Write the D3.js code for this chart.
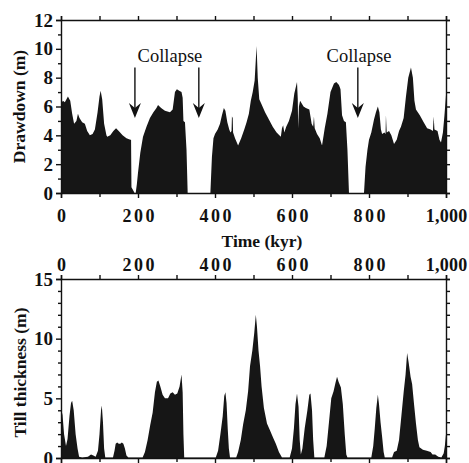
<!DOCTYPE html>
<html>
<head>
<meta charset="utf-8">
<script src="https://cdn.jsdelivr.net/npm/d3@7"></script>
<style>
  html, body { margin: 0; padding: 0; background: #fff; }
  svg { display: block; }
  .tick text { font-family: "Liberation Serif", "Times New Roman", serif; font-weight: bold; fill: #111; }
  .domain, .tick line { stroke: #111; stroke-width: 1.4; }
</style>
</head>
<body>
<svg id="chart" width="469" height="463"></svg>
<script>
// Simulated ice-stream record: basal drawdown and till thickness over 1 Myr
const drawdownTime = [0,5,10,18,24,29,34,40,44,48,55,62,68,75,82,88,95,100,103,107,112,118,120,128,136,143,150,160,170,180,182,183,187,191,194,197,200,206,213,222,231,240,248,252,260,270,283,290,296,301,307,313,316,318,322,326,329,388,392,396,400,407,413,418,423,427,432,437,440,443,444,446,447,452,460,468,476,482,488,493,498,503,508,511,515,520,530,540,550,560,571,574,577,580,585,592,600,606,613,615,616,618,621,630,636,645,648,651,655,657,659,665,672,678,685,692,700,709,715,722,726,730,735,740,744,748,787,791,796,800,806,813,818,823,827,831,834,840,843,844,846,852,858,865,872,878,883,890,896,902,909,914,918,922,932,942,951,960,966,968,970,978,983,987,992,996,1000];
const drawdownValue = [6.2,6.4,6.3,6.7,6.4,5.5,4.8,5.0,5.5,5.2,4.9,4.8,4.3,4.0,4.1,4.4,5.6,6.7,7.1,6.5,4.8,4.0,3.9,4.0,4.3,4.5,4.3,4.0,3.8,3.7,3.7,0.4,0.2,0,0,0.6,1.4,2.8,3.9,4.6,5.2,5.6,5.9,6.1,5.9,5.7,5.6,5.8,7.0,7.2,7.1,7.0,6.6,5.0,4.9,3.0,0,0,2.5,3.8,4.1,4.4,4.8,5.4,5.9,5.7,4.9,4.4,4.2,4.3,5.3,5.2,4.2,3.8,3.3,3.8,4.4,4.9,5.5,6.4,7.0,7.8,10.2,8.0,6.5,6.2,5.6,5.1,4.6,4.2,3.9,4.5,4.7,4.2,4.6,5.0,5.7,6.9,7.7,6.5,4.5,6.0,6.4,6.0,5.9,5.8,5.3,4.8,4.6,5.3,4.5,4.1,3.8,3.3,4.5,5.5,7.0,7.6,7.7,7.5,7.2,5.4,5.0,4.9,3.0,0,0,1.8,3.0,3.7,4.2,5.1,5.6,6.0,5.6,4.4,4.1,4.2,4.1,5.4,4.2,4.3,4.0,3.4,3.7,4.3,4.6,5.2,6.7,8.0,8.7,8.0,6.4,5.8,5.4,4.9,4.5,4.4,4.3,5.3,4.4,4.3,3.7,3.5,4.2,5.4,6.8];

const tillTime = [0,4,8,13,17,22,26,29,33,38,43,47,55,70,78,84,90,96,100,104,106,109,112,115,135,139,142,146,150,154,158,162,166,170,175,212,218,225,232,238,244,249,253,258,264,270,278,284,290,296,302,308,313,316,318,320,402,408,414,420,424,427,430,433,436,439,455,460,467,473,480,486,491,497,502,506,509,513,517,521,527,535,543,551,558,566,574,594,600,605,609,613,617,620,623,627,633,640,645,648,652,655,658,684,690,696,702,708,713,717,721,727,732,737,741,744,806,811,815,819,823,826,830,834,838,841,860,865,872,878,884,890,895,899,903,908,912,917,922,927,931,940,950,960,965,972,980,988,994,997,1000];
const tillValue = [4.2,3.6,2.0,1.0,1.6,3.5,4.6,4.8,4.0,2.0,0.8,0.1,0.05,0.1,0.3,0.2,0.1,0.6,2.0,4.0,4.4,3.0,0.8,0.05,0.05,0.6,1.2,1.3,1.2,1.2,1.3,1.2,0.8,0.2,0.05,0.05,0.5,1.5,2.8,3.8,5.5,6.4,6.5,6.0,5.3,5.0,5.0,5.4,5.5,5.3,5.4,6.0,7.0,5.5,2.0,0.05,0.05,0.6,2.0,3.5,5.2,5.5,4.6,2.5,0.8,0.05,0.05,0.5,1.5,2.8,4.0,5.6,7.7,9.0,10.5,12.0,11.0,9.0,7.7,6.0,4.2,2.9,2.3,1.7,1.2,0.5,0.05,0.05,0.8,2.5,4.5,5.4,4.3,1.5,0.3,0.8,2.5,4.0,5.3,5.4,4.0,1.5,0.05,0.05,1.0,3.0,5.0,5.6,6.3,6.8,6.4,5.9,4.5,2.0,0.3,0.05,0.05,1.0,2.5,4.2,5.3,4.5,3.0,1.8,0.5,0.05,0.05,0.5,0.6,1.5,3.5,5.5,7.0,8.8,8.0,6.8,6.2,4.5,2.9,1.5,0.9,0.7,0.6,0.5,0.3,0.3,0.1,0.05,0.4,1.0,2.0];

// Axis ticks and labels
const timeLabelTicks = [0, 200, 400, 600, 800, 1000];
const timeMinorTicks = [100, 300, 500, 700, 900];
const drawdownLabelTicks = [0, 2, 4, 6, 8, 10, 12];
const drawdownMinorTicks = [1, 3, 5, 7, 9, 11];
const drawdownRightTicks = d3.range(0, 13);
const tillLabelTicks = [0, 5, 10, 15];
const tillMinorTicks = d3.range(1, 15).filter(v => v % 5 !== 0);
const tillRightTicks = d3.range(0, 16);

// Collapse annotations (time in kyr, drawdown in m)
const collapseArrowTimes = [192, 358, 771];
const collapseLabelTimes = [283, 774];
const collapseLabelText = ["Collapse", "Collapse"];
const arrowTopValue = 8.7;
const arrowTipValue = 5.2;

const svg = d3.select("#chart");
const serif = '"Liberation Serif", "Times New Roman", serif';

const x = d3.scaleLinear().domain([0, 1000]).range([61, 446]);
const yTop = d3.scaleLinear().domain([0, 12]).range([193, 20]);
const yBot = d3.scaleLinear().domain([0, 15]).range([458, 279]);

const fmtTime = d3.format(",");

// Time labels: short numbers are spaced out, "1,000" is set tight
function styleTimeLabels(sel) {
  sel.selectAll("text")
    .style("font-size", "18px")
    .each(function (d) {
      const sp = d >= 1000 ? 0.3 : 2.5;
      d3.select(this).style("letter-spacing", sp + "px").attr("dx", (sp / 2) + "px");
    });
}

function frame(g, y, top, bottom, labelTicks, minorTicks, rightTicks, showBottomLabels) {
  // bottom edge
  const bAxis = g.append("g").attr("transform", `translate(0,${bottom})`)
    .call(d3.axisBottom(x).tickValues(timeLabelTicks).tickSize(5).tickPadding(11)
      .tickFormat(showBottomLabels ? fmtTime : ""));
  styleTimeLabels(bAxis);
  g.append("g").attr("transform", `translate(0,${bottom})`)
    .call(d3.axisBottom(x).tickValues(timeMinorTicks).tickSize(4).tickFormat(""))
    .select(".domain").remove();
  // top edge
  const tAxis = g.append("g").attr("transform", `translate(0,${top})`)
    .call(d3.axisTop(x).tickValues(timeLabelTicks).tickSize(4).tickPadding(4)
      .tickFormat(showBottomLabels ? "" : fmtTime));
  styleTimeLabels(tAxis);
  g.append("g").attr("transform", `translate(0,${top})`)
    .call(d3.axisTop(x).tickValues(timeMinorTicks).tickSize(4).tickFormat(""))
    .select(".domain").remove();
  // left edge
  const lAxis = g.append("g").attr("transform", `translate(${x(0)},0)`)
    .call(d3.axisLeft(y).tickValues(labelTicks).tickSize(5).tickPadding(3));
  lAxis.selectAll("text").style("font-size", "19px");
  g.append("g").attr("transform", `translate(${x(0)},0)`)
    .call(d3.axisLeft(y).tickValues(minorTicks).tickSize(3).tickFormat(""))
    .select(".domain").remove();
  // right edge
  g.append("g").attr("transform", `translate(${x(1000)},0)`)
    .call(d3.axisRight(y).tickValues(rightTicks).tickSize(4).tickFormat(""));
}

// ---- Drawdown panel ----
const gTop = svg.append("g");
const drawdown = drawdownTime.map((t, i) => ({ t, v: drawdownValue[i] }));
gTop.append("path")
  .datum(drawdown)
  .attr("fill", "#161616")
  .attr("d", d3.area().x(d => x(d.t)).y0(yTop(0)).y1(d => yTop(d.v)));
frame(gTop, yTop, 20, 193, drawdownLabelTicks, drawdownMinorTicks, drawdownRightTicks, true);

gTop.append("text")
  .attr("transform", `translate(25,${(yTop(0) + yTop(12)) / 2}) rotate(-90)`)
  .attr("text-anchor", "middle")
  .style("font-family", serif).style("font-weight", "bold").style("font-size", "17.5px")
  .attr("fill", "#111")
  .text("Drawdown (m)");

// collapse arrows
const arrows = gTop.append("g");
collapseArrowTimes.forEach(t => {
  const ax = x(t), y1 = yTop(arrowTopValue), y2 = yTop(arrowTipValue);
  arrows.append("line").attr("x1", ax).attr("x2", ax).attr("y1", y1).attr("y2", y2 - 8)
    .attr("stroke", "#111").attr("stroke-width", 1.4);
  arrows.append("path")
    .attr("d", `M${ax},${y2} L${ax - 6},${y2 - 15} L${ax},${y2 - 10} L${ax + 6},${y2 - 15} Z`)
    .attr("fill", "#111");
});
collapseLabelTimes.forEach((t, i) => {
  gTop.append("text")
    .attr("x", x(t)).attr("y", 62)
    .attr("text-anchor", "middle")
    .style("font-family", serif).style("font-size", "18.5px")
    .attr("fill", "#111")
    .text(collapseLabelText[i]);
});

svg.append("text")
  .attr("x", 262).attr("y", 247)
  .attr("text-anchor", "middle")
  .style("font-family", serif).style("font-weight", "bold").style("font-size", "17.5px")
  .attr("fill", "#111")
  .text("Time (kyr)");

// ---- Till thickness panel ----
const gBot = svg.append("g");
const till = tillTime.map((t, i) => ({ t, v: tillValue[i] }));
gBot.append("path")
  .datum(till)
  .attr("fill", "#161616")
  .attr("d", d3.area().x(d => x(d.t)).y0(yBot(0)).y1(d => yBot(d.v)));
frame(gBot, yBot, 279, 458, tillLabelTicks, tillMinorTicks, tillRightTicks, false);

gBot.append("text")
  .attr("transform", `translate(26,${(yBot(0) + yBot(15)) / 2 + 4}) rotate(-90)`)
  .attr("text-anchor", "middle")
  .style("font-family", serif).style("font-weight", "bold").style("font-size", "17.5px")
  .attr("fill", "#111")
  .text("Till thickness (m)");
</script>
</body>
</html>
